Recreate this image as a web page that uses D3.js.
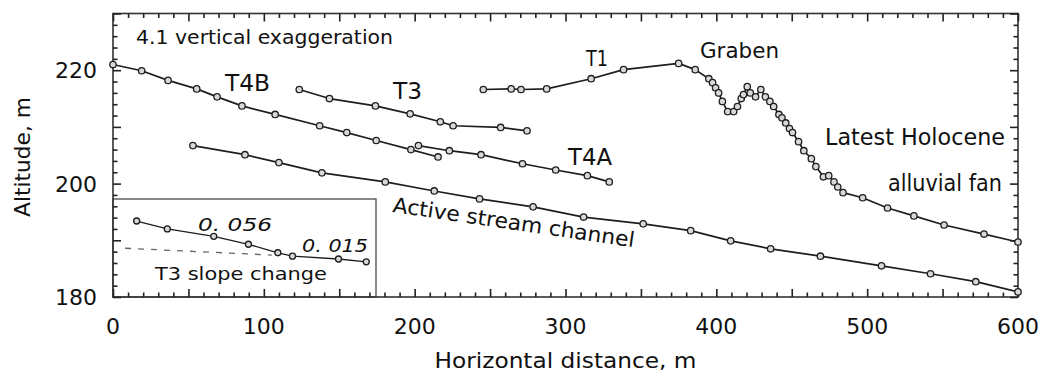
<!DOCTYPE html>
<html>
<head>
<meta charset="utf-8">
<script src="https://cdn.jsdelivr.net/npm/d3@7"></script>
<style>
  html, body { margin: 0; padding: 0; background: #fff; }
  svg { display: block; }
  text { font-family: "DejaVu Sans", sans-serif; fill: #111; }
</style>
</head>
<body>
<svg id="chart" width="1045" height="376"></svg>
<script>
// ---------------- DATA ----------------
const t4bX = [0, 19, 36.5, 55.5, 69, 85.5, 107.5, 137, 155, 174.5, 197.5, 215.5];
const t4bY = [221, 219.9, 218.2, 216.7, 215.3, 213.7, 212.2, 210.2, 209, 207.6, 206, 204.7];

const t4aX = [202.5, 223, 244, 271.5, 293.5, 314.5, 329];
const t4aY = [206.7, 205.8, 205.1, 203.5, 202.4, 201.4, 200.3];

const t3X = [123.5, 143.5, 174, 197, 217, 225.5, 257, 274.5];
const t3Y = [216.6, 215, 213.7, 212.3, 210.9, 210.2, 209.9, 209.3];

const activeX = [53, 87.5, 110, 138.5, 180.5, 213, 243, 278.5, 312, 351.5, 383, 409.5, 436, 469, 509.5, 542, 572, 600];
const activeY = [206.7, 205.1, 203.7, 201.9, 200.3, 198.7, 197.3, 195.9, 194.1, 192.9, 191.7, 189.9, 188.5, 187.2, 185.5, 184.1, 182.7, 180.9];

const fanX = [245.5, 264, 270.5, 287.5, 317, 338.5, 375, 386, 395, 397.5, 399.5, 401.5, 404, 407.5, 411.5, 414, 416.5, 418, 420.5,
              422.5, 426, 429.5, 432.5, 435.5, 438, 441.5, 443.5, 446, 448.5, 450.5, 454.5, 458, 463, 466, 471, 474.5, 478, 480.5, 484,
              497, 513.5, 531, 551, 577.5, 600];
const fanY = [216.6, 216.7, 216.6, 216.7, 218.5, 220.1, 221.2, 220.1, 218.5, 217.8, 216.9, 216.0, 214.5, 212.7, 212.7, 213.6, 215.0, 215.7, 217.1,
              216.0, 215.3, 216.6, 215.3, 214.5, 213.6, 212.2, 211.6, 210.7, 209.7, 209.0, 207.4, 205.8, 204.4, 203.0, 201.2, 201.4, 200.3, 199.4, 198.4,
              197.5, 195.7, 194.3, 192.7, 191.1, 189.7];

// inset: T3 slope change (replotted)
const insetX = [15.7, 36, 66.8, 89.8, 109.3, 119, 149.5, 167.9];
const insetY = [193.4, 192, 190.7, 189.3, 187.8, 187.2, 186.7, 186.2];
const insetDashX = [8, 105.3];
const insetDashY = [188.6, 187.4];

const xTickLabels = [0, 100, 200, 300, 400, 500, 600];
const yTickLabels = [180, 200, 220];

// ---------------- LAYOUT ----------------
const svg = d3.select("#chart");
const L = 113, R = 1018, T = 13.5, B = 297;
const x = d3.scaleLinear().domain([0, 600]).range([L, R]);
const y = d3.scaleLinear().domain([180, 230]).range([B, T]);

const ink = "#1e1e1e";

// inset box
const insetRight = x.invert(376), insetTop = y.invert(199);
svg.append("rect")
  .attr("x", x(0)).attr("y", y(insetTop))
  .attr("width", x(insetRight) - x(0)).attr("height", y(180) - y(insetTop))
  .attr("fill", "none").attr("stroke", "#555").attr("stroke-width", 1.4);

// frame
svg.append("rect").attr("x", L).attr("y", T).attr("width", R - L).attr("height", B - T)
  .attr("fill", "none").attr("stroke", "#333").attr("stroke-width", 1.6);

// inward ticks on all four sides (d3 axes; tick text suppressed)
function tickAxis(gen, tf) {
  const g = svg.append("g").attr("transform", tf)
    .call(gen.tickFormat(() => "").tickSizeOuter(0));
  g.select(".domain").attr("stroke", "none");
  g.selectAll(".tick line").attr("stroke", "#222").attr("stroke-width", 1.6);
}
const xMinor = d3.range(0, 601, 10).filter(v => v % 50 !== 0);
const xMajor = d3.range(0, 601, 50);
const yMinor = d3.range(180, 231, 2).filter(v => v % 10 !== 0);
const yMajor = d3.range(180, 231, 10);
tickAxis(d3.axisTop(x).tickValues(xMinor).tickSize(4.5), `translate(0,${B})`);
tickAxis(d3.axisTop(x).tickValues(xMajor).tickSize(8), `translate(0,${B})`);
tickAxis(d3.axisBottom(x).tickValues(xMinor).tickSize(4.5), `translate(0,${T})`);
tickAxis(d3.axisBottom(x).tickValues(xMajor).tickSize(8), `translate(0,${T})`);
tickAxis(d3.axisRight(y).tickValues(yMinor).tickSize(4.5), `translate(${L},0)`);
tickAxis(d3.axisRight(y).tickValues(yMajor).tickSize(8), `translate(${L},0)`);
tickAxis(d3.axisLeft(y).tickValues(yMinor).tickSize(4.5), `translate(${R},0)`);
tickAxis(d3.axisLeft(y).tickValues(yMajor).tickSize(8), `translate(${R},0)`);

// tick labels
svg.append("g").selectAll("text").data(xTickLabels).join("text")
  .attr("x", d => x(d)).attr("y", 334)
  .attr("text-anchor", "middle").attr("font-size", 22).text(d => d);
svg.append("g").selectAll("text").data(yTickLabels).join("text")
  .attr("x", 97).attr("y", d => y(d) + 8)
  .attr("text-anchor", "end").attr("font-size", 22).text(d => d);

// axis titles
svg.append("text").attr("x", (L + R) / 2).attr("y", 368).attr("text-anchor", "middle")
  .attr("font-size", 22).attr("textLength", 262).attr("lengthAdjust", "spacingAndGlyphs")
  .text("Horizontal distance, m");
svg.append("text").attr("transform", "translate(30,157) rotate(-90)").attr("text-anchor", "middle")
  .attr("font-size", 21).attr("textLength", 120).attr("lengthAdjust", "spacingAndGlyphs")
  .text("Altitude, m");

// profile lines
const line = d3.line().x(d => x(d[0])).y(d => y(d[1]));
function series(xs, ys, opts = {}) {
  const pts = xs.map((v, i) => [v, ys[i]]);
  svg.append("path").datum(pts).attr("d", line).attr("fill", "none")
    .attr("stroke", ink).attr("stroke-width", opts.w || 1.7).attr("stroke-linejoin", "round");
  svg.append("g").selectAll("circle").data(pts).join("circle")
    .attr("cx", d => x(d[0])).attr("cy", d => y(d[1])).attr("r", opts.r || 3.2)
    .attr("fill", "#d8d8d8").attr("stroke", ink).attr("stroke-width", 1.3);
}
series(t4bX, t4bY);
series(t3X, t3Y);
series(t4aX, t4aY);
series(activeX, activeY);
series(fanX, fanY);

// inset content
svg.append("path").datum(insetDashX.map((v, i) => [v, insetDashY[i]])).attr("d", line)
  .attr("fill", "none").attr("stroke", "#666").attr("stroke-width", 1.3).attr("stroke-dasharray", "6,7");
series(insetX, insetY, { w: 1.3, r: 3 });

// annotations
function label(txt, px, py, size, len, extra) {
  const t = svg.append("text").attr("x", px).attr("y", py).attr("font-size", size).text(txt);
  if (len) t.attr("textLength", len).attr("lengthAdjust", "spacingAndGlyphs");
  if (extra) extra(t);
  return t;
}
label("4.1 vertical exaggeration", 136, 44, 20, 257);
label("T4B", 225, 91, 23, 45);
label("T3", 393, 99, 23, 29);
label("T1", 586, 66, 22, 22);
label("Graben", 700, 58, 22, 79);
label("T4A", 568, 165, 23, 44);
label("Latest Holocene", 825, 145, 23, 180);
label("alluvial fan", 888, 191, 23, 114);
svg.append("text").attr("transform", "translate(392,212) rotate(8.3)")
  .attr("font-size", 21).attr("textLength", 244).attr("lengthAdjust", "spacingAndGlyphs")
  .text("Active stream channel");
label("0. 056", 198, 231, 17, 74, t => t.attr("font-style", "italic"));
label("0. 015", 302, 252, 17, 66, t => t.attr("font-style", "italic"));
label("T3 slope change", 155, 280, 17, 172);
</script>
</body>
</html>
